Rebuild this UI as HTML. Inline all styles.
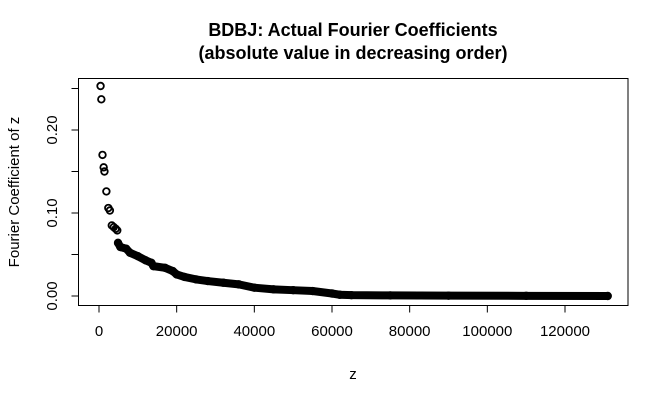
<!DOCTYPE html>
<html><head><meta charset="utf-8"><style>
body{margin:0;background:#fff}
svg text{font-family:"Liberation Sans",Arial,sans-serif}
</style></head><body>
<svg width="669" height="403" xmlns="http://www.w3.org/2000/svg">
<g id="plot"></g>
</svg>
<script>
const zVals=[400,600,900,1200,1400,1900,2400,2800,3300,3800,4300,4700,4900,5500,7000,8000,10000,12000,13500,14000,17000,19000,20000,22000,25000,28000,32000,36000,40000,45000,50000,55000,60000,62000,65000,75000,90000,110000,131000];
const coefVals=[0.253,0.237,0.170,0.155,0.150,0.126,0.106,0.103,0.085,0.083,0.081,0.079,0.064,0.059,0.057,0.052,0.048,0.043,0.040,0.036,0.034,0.030,0.026,0.023,0.020,0.018,0.016,0.014,0.010,0.008,0.007,0.006,0.003,0.0015,0.001,0.0007,0.0004,0.0002,0.0];
const xTicks=[0,20000,40000,60000,80000,100000,120000];
const yTicks=[0,0.05,0.10,0.15,0.20,0.25];
const yTickLabels=["0.00","","0.10","","0.20",""];
const NS="http://www.w3.org/2000/svg";
const X=v=>99+v*(466/120000);
const Y=v=>296-v*830;
const g=document.getElementById('plot');
function mk(t,a){const e=document.createElementNS(NS,t);for(const k in a)e.setAttribute(k,a[k]);g.appendChild(e);return e;}
let e;
e=mk('rect',{x:78.5,y:78.5,width:549.5,height:227,fill:'none',stroke:'#000','stroke-width':1});


let pts=[];
for(let i=12;i<zVals.length;i++)pts.push(X(zVals[i])+','+Y(coefVals[i]));
e=mk('polyline',{points:pts.join(' '),fill:'none',stroke:'#000','stroke-width':8,'stroke-linecap':'round','stroke-linejoin':'round'});


for(let i=0;i<zVals.length;i++){
 e=mk('circle',{cx:X(zVals[i]),cy:Y(coefVals[i]),r:3.3,fill:'none',stroke:'#000','stroke-width':1.8});
 
 
}
e=mk('line',{x1:X(0),x2:X(120000),y1:305.5,y2:305.5,stroke:'#000'});


xTicks.forEach(t=>{
 e=mk('line',{x1:X(t),x2:X(t),y1:305.5,y2:312.5,stroke:'#000'});
 
 
 e=mk('text',{x:X(t),y:336,'text-anchor':'middle','font-size':15});
 e.textContent=t;
 
 
});
e=mk('line',{x1:78.5,x2:78.5,y1:Y(0),y2:Y(0.25),stroke:'#000'});


yTicks.forEach((t,i)=>{
 e=mk('line',{x1:71.5,x2:78.5,y1:Y(t),y2:Y(t),stroke:'#000'});
 
 
 if(yTickLabels[i]){
  e=mk('text',{x:0,y:0,'text-anchor':'middle','font-size':15,transform:`translate(57,${Y(t)}) rotate(-90)`});
  e.textContent=yTickLabels[i];
  
  
 }
});
e=mk('text',{x:353,y:379,'text-anchor':'middle','font-size':15});
e.textContent='z';


e=mk('text',{x:0,y:0,'text-anchor':'middle','font-size':15,transform:'translate(19,192) rotate(-90)'});
e.textContent='Fourier Coefficient of z';


e=mk('text',{x:353,y:36,'text-anchor':'middle','font-size':18,'font-weight':'bold'});
e.textContent='BDBJ: Actual Fourier Coefficients';


e=mk('text',{x:353,y:59,'text-anchor':'middle','font-size':18,'font-weight':'bold'});
e.textContent='(absolute value in decreasing order)';


</script>
</body></html>
